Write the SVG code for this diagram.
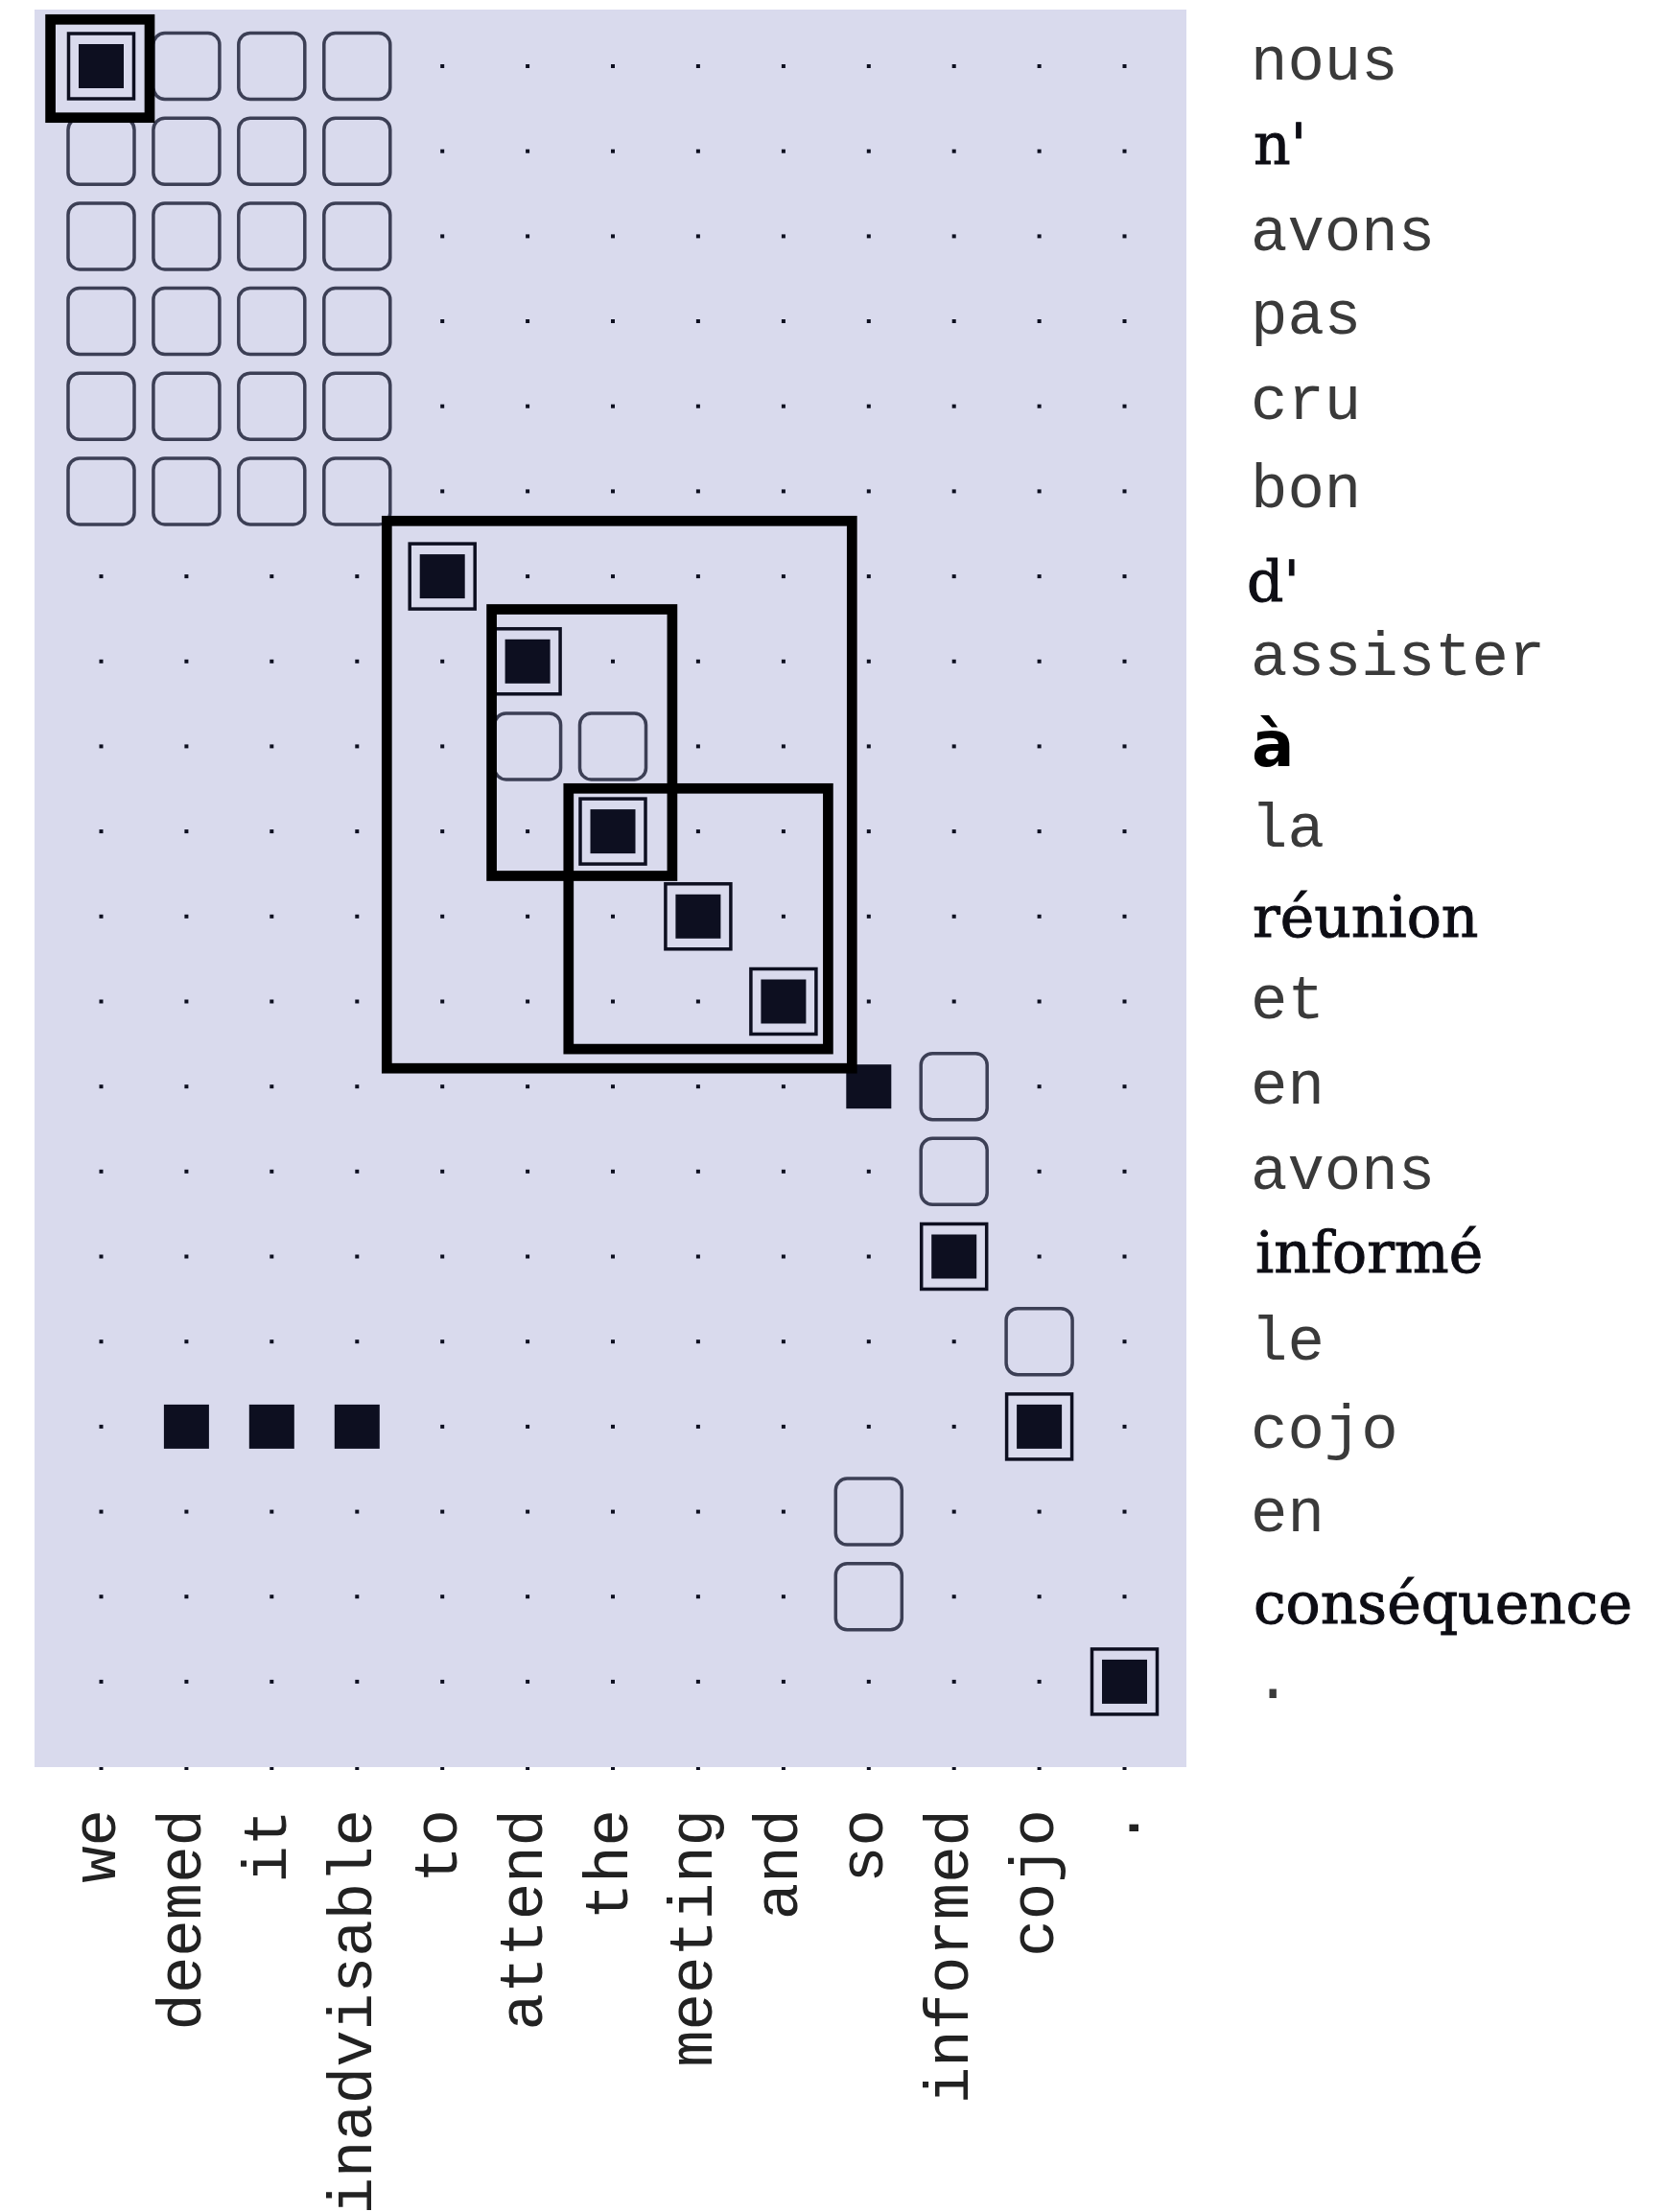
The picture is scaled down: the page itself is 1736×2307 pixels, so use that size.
<svg xmlns="http://www.w3.org/2000/svg" xmlns:xlink="http://www.w3.org/1999/xlink" width="1736" height="2307" viewBox="0 0 1736 2307">
<style>
.mono{font-family:"Liberation Mono","DejaVu Sans Mono",monospace;font-size:64px;fill:#3a3a3a}
.en{font-family:"Liberation Mono","DejaVu Sans Mono",monospace;font-size:64px;fill:#222}
.ser{font-family:"DejaVu Serif","Liberation Serif",serif;font-size:60px;fill:#0d0d14;stroke:#0d0d14;stroke-width:1}
.bld{font-family:"DejaVu Sans","Liberation Sans",sans-serif;font-weight:bold;font-size:66px;fill:#000}
.thick{fill:none;stroke:#000;stroke-width:10.7}
</style>
<defs>
<rect id="d" x="-2" y="-2" width="4" height="4" fill="#0d0f20"/>
<rect id="d2" x="-2" y="0" width="4" height="3" fill="#0d0f20"/>
<rect id="f" x="-23.5" y="-23" width="47" height="46" fill="#0d0f20"/>
<rect id="fr" x="-34" y="-34" width="68" height="68" fill="none" stroke="#0d0f20" stroke-width="3.5"/>
<rect id="rb" x="-34.5" y="-34.5" width="69" height="69" rx="12" fill="none" stroke="#3c3f55" stroke-width="3.5"/>
</defs>
<rect width="1736" height="2307" fill="#fff"/>
<rect id="matrix-bg" x="36" y="10" width="1201" height="1833" fill="#d9daed"/>

<g id="dots">
<g transform="translate(0,69)"><use href="#d" x="461.2"/><use href="#d" x="550.1"/><use href="#d" x="639"/><use href="#d" x="727.9"/><use href="#d" x="816.9"/><use href="#d" x="905.8"/><use href="#d" x="994.7"/><use href="#d" x="1083.6"/><use href="#d" x="1172.5"/></g>
<g transform="translate(0,157.7)"><use href="#d" x="461.2"/><use href="#d" x="550.1"/><use href="#d" x="639"/><use href="#d" x="727.9"/><use href="#d" x="816.9"/><use href="#d" x="905.8"/><use href="#d" x="994.7"/><use href="#d" x="1083.6"/><use href="#d" x="1172.5"/></g>
<g transform="translate(0,246.4)"><use href="#d" x="461.2"/><use href="#d" x="550.1"/><use href="#d" x="639"/><use href="#d" x="727.9"/><use href="#d" x="816.9"/><use href="#d" x="905.8"/><use href="#d" x="994.7"/><use href="#d" x="1083.6"/><use href="#d" x="1172.5"/></g>
<g transform="translate(0,335)"><use href="#d" x="461.2"/><use href="#d" x="550.1"/><use href="#d" x="639"/><use href="#d" x="727.9"/><use href="#d" x="816.9"/><use href="#d" x="905.8"/><use href="#d" x="994.7"/><use href="#d" x="1083.6"/><use href="#d" x="1172.5"/></g>
<g transform="translate(0,423.7)"><use href="#d" x="461.2"/><use href="#d" x="550.1"/><use href="#d" x="639"/><use href="#d" x="727.9"/><use href="#d" x="816.9"/><use href="#d" x="905.8"/><use href="#d" x="994.7"/><use href="#d" x="1083.6"/><use href="#d" x="1172.5"/></g>
<g transform="translate(0,512.4)"><use href="#d" x="461.2"/><use href="#d" x="550.1"/><use href="#d" x="639"/><use href="#d" x="727.9"/><use href="#d" x="816.9"/><use href="#d" x="905.8"/><use href="#d" x="994.7"/><use href="#d" x="1083.6"/><use href="#d" x="1172.5"/></g>
<g transform="translate(0,601.1)"><use href="#d" x="105.5"/><use href="#d" x="194.4"/><use href="#d" x="283.3"/><use href="#d" x="372.3"/><use href="#d" x="550.1"/><use href="#d" x="639"/><use href="#d" x="727.9"/><use href="#d" x="816.9"/><use href="#d" x="905.8"/><use href="#d" x="994.7"/><use href="#d" x="1083.6"/><use href="#d" x="1172.5"/></g>
<g transform="translate(0,689.8)"><use href="#d" x="105.5"/><use href="#d" x="194.4"/><use href="#d" x="283.3"/><use href="#d" x="372.3"/><use href="#d" x="461.2"/><use href="#d" x="639"/><use href="#d" x="727.9"/><use href="#d" x="816.9"/><use href="#d" x="905.8"/><use href="#d" x="994.7"/><use href="#d" x="1083.6"/><use href="#d" x="1172.5"/></g>
<g transform="translate(0,778.4)"><use href="#d" x="105.5"/><use href="#d" x="194.4"/><use href="#d" x="283.3"/><use href="#d" x="372.3"/><use href="#d" x="461.2"/><use href="#d" x="727.9"/><use href="#d" x="816.9"/><use href="#d" x="905.8"/><use href="#d" x="994.7"/><use href="#d" x="1083.6"/><use href="#d" x="1172.5"/></g>
<g transform="translate(0,867.1)"><use href="#d" x="105.5"/><use href="#d" x="194.4"/><use href="#d" x="283.3"/><use href="#d" x="372.3"/><use href="#d" x="461.2"/><use href="#d" x="550.1"/><use href="#d" x="727.9"/><use href="#d" x="816.9"/><use href="#d" x="905.8"/><use href="#d" x="994.7"/><use href="#d" x="1083.6"/><use href="#d" x="1172.5"/></g>
<g transform="translate(0,955.8)"><use href="#d" x="105.5"/><use href="#d" x="194.4"/><use href="#d" x="283.3"/><use href="#d" x="372.3"/><use href="#d" x="461.2"/><use href="#d" x="550.1"/><use href="#d" x="639"/><use href="#d" x="816.9"/><use href="#d" x="905.8"/><use href="#d" x="994.7"/><use href="#d" x="1083.6"/><use href="#d" x="1172.5"/></g>
<g transform="translate(0,1044.5)"><use href="#d" x="105.5"/><use href="#d" x="194.4"/><use href="#d" x="283.3"/><use href="#d" x="372.3"/><use href="#d" x="461.2"/><use href="#d" x="550.1"/><use href="#d" x="639"/><use href="#d" x="727.9"/><use href="#d" x="905.8"/><use href="#d" x="994.7"/><use href="#d" x="1083.6"/><use href="#d" x="1172.5"/></g>
<g transform="translate(0,1133.2)"><use href="#d" x="105.5"/><use href="#d" x="194.4"/><use href="#d" x="283.3"/><use href="#d" x="372.3"/><use href="#d" x="461.2"/><use href="#d" x="550.1"/><use href="#d" x="639"/><use href="#d" x="727.9"/><use href="#d" x="816.9"/><use href="#d" x="1083.6"/><use href="#d" x="1172.5"/></g>
<g transform="translate(0,1221.8)"><use href="#d" x="105.5"/><use href="#d" x="194.4"/><use href="#d" x="283.3"/><use href="#d" x="372.3"/><use href="#d" x="461.2"/><use href="#d" x="550.1"/><use href="#d" x="639"/><use href="#d" x="727.9"/><use href="#d" x="816.9"/><use href="#d" x="905.8"/><use href="#d" x="1083.6"/><use href="#d" x="1172.5"/></g>
<g transform="translate(0,1310.5)"><use href="#d" x="105.5"/><use href="#d" x="194.4"/><use href="#d" x="283.3"/><use href="#d" x="372.3"/><use href="#d" x="461.2"/><use href="#d" x="550.1"/><use href="#d" x="639"/><use href="#d" x="727.9"/><use href="#d" x="816.9"/><use href="#d" x="905.8"/><use href="#d" x="1083.6"/><use href="#d" x="1172.5"/></g>
<g transform="translate(0,1399.2)"><use href="#d" x="105.5"/><use href="#d" x="194.4"/><use href="#d" x="283.3"/><use href="#d" x="372.3"/><use href="#d" x="461.2"/><use href="#d" x="550.1"/><use href="#d" x="639"/><use href="#d" x="727.9"/><use href="#d" x="816.9"/><use href="#d" x="905.8"/><use href="#d" x="994.7"/><use href="#d" x="1172.5"/></g>
<g transform="translate(0,1487.9)"><use href="#d" x="105.5"/><use href="#d" x="461.2"/><use href="#d" x="550.1"/><use href="#d" x="639"/><use href="#d" x="727.9"/><use href="#d" x="816.9"/><use href="#d" x="905.8"/><use href="#d" x="994.7"/><use href="#d" x="1172.5"/></g>
<g transform="translate(0,1576.6)"><use href="#d" x="105.5"/><use href="#d" x="194.4"/><use href="#d" x="283.3"/><use href="#d" x="372.3"/><use href="#d" x="461.2"/><use href="#d" x="550.1"/><use href="#d" x="639"/><use href="#d" x="727.9"/><use href="#d" x="816.9"/><use href="#d" x="994.7"/><use href="#d" x="1083.6"/><use href="#d" x="1172.5"/></g>
<g transform="translate(0,1665.2)"><use href="#d" x="105.5"/><use href="#d" x="194.4"/><use href="#d" x="283.3"/><use href="#d" x="372.3"/><use href="#d" x="461.2"/><use href="#d" x="550.1"/><use href="#d" x="639"/><use href="#d" x="727.9"/><use href="#d" x="816.9"/><use href="#d" x="994.7"/><use href="#d" x="1083.6"/><use href="#d" x="1172.5"/></g>
<g transform="translate(0,1753.9)"><use href="#d" x="105.5"/><use href="#d" x="194.4"/><use href="#d" x="283.3"/><use href="#d" x="372.3"/><use href="#d" x="461.2"/><use href="#d" x="550.1"/><use href="#d" x="639"/><use href="#d" x="727.9"/><use href="#d" x="816.9"/><use href="#d" x="905.8"/><use href="#d" x="994.7"/><use href="#d" x="1083.6"/></g>
<g transform="translate(0,1843)"><use href="#d2" x="105.5"/><use href="#d2" x="194.4"/><use href="#d2" x="283.3"/><use href="#d2" x="372.3"/><use href="#d2" x="461.2"/><use href="#d2" x="550.1"/><use href="#d2" x="639"/><use href="#d2" x="727.9"/><use href="#d2" x="816.9"/><use href="#d2" x="905.8"/><use href="#d2" x="994.7"/><use href="#d2" x="1083.6"/><use href="#d2" x="1172.5"/></g>
</g>

<g id="possible-links">
<use href="#rb" x="194.4" y="69"/><use href="#rb" x="283.3" y="69"/><use href="#rb" x="372.3" y="69"/>
<use href="#rb" x="105.5" y="157.7"/><use href="#rb" x="194.4" y="157.7"/><use href="#rb" x="283.3" y="157.7"/><use href="#rb" x="372.3" y="157.7"/>
<use href="#rb" x="105.5" y="246.4"/><use href="#rb" x="194.4" y="246.4"/><use href="#rb" x="283.3" y="246.4"/><use href="#rb" x="372.3" y="246.4"/>
<use href="#rb" x="105.5" y="335"/><use href="#rb" x="194.4" y="335"/><use href="#rb" x="283.3" y="335"/><use href="#rb" x="372.3" y="335"/>
<use href="#rb" x="105.5" y="423.7"/><use href="#rb" x="194.4" y="423.7"/><use href="#rb" x="283.3" y="423.7"/><use href="#rb" x="372.3" y="423.7"/>
<use href="#rb" x="105.5" y="512.4"/><use href="#rb" x="194.4" y="512.4"/><use href="#rb" x="283.3" y="512.4"/><use href="#rb" x="372.3" y="512.4"/>
<use href="#rb" x="550.1" y="778.4"/><use href="#rb" x="639" y="778.4"/>
<use href="#rb" x="994.7" y="1133.2"/><use href="#rb" x="994.7" y="1221.8"/>
<use href="#rb" x="1083.6" y="1399.2"/>
<use href="#rb" x="905.8" y="1576.6"/><use href="#rb" x="905.8" y="1665.2"/>
</g>

<g id="sure-links">
<g id="c0-0"><use href="#fr" x="105.5" y="69"/><use href="#f" x="105.5" y="69"/></g>
<g id="c6-4"><use href="#fr" x="461.2" y="601.1"/><use href="#f" x="461.2" y="601.1"/></g>
<g id="c7-5"><use href="#fr" x="550.1" y="689.8"/><use href="#f" x="550.1" y="689.8"/></g>
<g id="c9-6"><use href="#fr" x="639" y="867.1"/><use href="#f" x="639" y="867.1"/></g>
<g id="c10-7"><use href="#fr" x="727.9" y="955.8"/><use href="#f" x="727.9" y="955.8"/></g>
<g id="c11-8"><use href="#fr" x="816.9" y="1044.5"/><use href="#f" x="816.9" y="1044.5"/></g>
<g id="c14-10"><use href="#fr" x="994.7" y="1310.5"/><use href="#f" x="994.7" y="1310.5"/></g>
<g id="c16-11"><use href="#fr" x="1083.6" y="1487.9"/><use href="#f" x="1083.6" y="1487.9"/></g>
<g id="c19-12"><use href="#fr" x="1172.5" y="1753.9"/><use href="#f" x="1172.5" y="1753.9"/></g>
<g id="c12-9"><use href="#f" x="905.8" y="1133.2"/></g>
<g id="c16-123"><use href="#f" x="194.4" y="1487.9"/><use href="#f" x="283.3" y="1487.9"/><use href="#f" x="372.3" y="1487.9"/></g>
</g>

<g id="phrase-boxes">
<rect class="thick" x="52.6" y="20.3" width="103.4" height="102.4"/>
<rect class="thick" x="403.3" y="543.3" width="485" height="570.9"/>
<rect class="thick" x="512.6" y="635.5" width="188.3" height="278"/>
<rect class="thick" x="592.8" y="822.3" width="270.6" height="271.8"/>
</g>

<g id="french-labels">
<text class="mono" x="1304" y="82.5">nous</text>
<text class="ser" x="1307" y="170.5">n'</text>
<text class="mono" x="1304" y="261">avons</text>
<text class="mono" x="1304" y="348">pas</text>
<text class="mono" x="1304" y="436.5">cru</text>
<text class="mono" x="1304" y="529">bon</text>
<text class="ser" x="1300" y="626.5">d'</text>
<text class="mono" x="1304" y="704">assister</text>
<text class="bld" x="1305" y="799.3">à</text>
<text class="mono" x="1304" y="883.3">la</text>
<text class="ser" x="1306" y="976.7">réunion</text>
<text class="mono" x="1304" y="1061.7">et</text>
<text class="mono" x="1304" y="1151">en</text>
<text class="mono" x="1304" y="1240">avons</text>
<text class="ser" x="1309" y="1326.7">informé</text>
<text class="mono" x="1304" y="1418.3">le</text>
<text class="mono" x="1304" y="1510">cojo</text>
<text class="mono" x="1304" y="1596.7">en</text>
<text class="ser" x="1307" y="1693.3">conséquence</text>
<text class="mono" x="1308" y="1771">.</text>
</g>

<g id="english-labels" text-anchor="end">
<text class="en" transform="translate(120,1887) rotate(-90)">we</text>
<text class="en" transform="translate(208.9,1887) rotate(-90)">deemed</text>
<text class="en" transform="translate(297.8,1887) rotate(-90)">it</text>
<text class="en" transform="translate(386.8,1887) rotate(-90)">inadvisable</text>
<text class="en" transform="translate(475.7,1887) rotate(-90)">to</text>
<text class="en" transform="translate(564.6,1887) rotate(-90)">attend</text>
<text class="en" transform="translate(653.5,1887) rotate(-90)">the</text>
<text class="en" transform="translate(742.4,1887) rotate(-90)">meeting</text>
<text class="en" transform="translate(831.4,1887) rotate(-90)">and</text>
<text class="en" transform="translate(920.3,1887) rotate(-90)">so</text>
<text class="en" transform="translate(1009.2,1887) rotate(-90)">informed</text>
<text class="en" transform="translate(1098.1,1887) rotate(-90)">cojo</text>
<text class="en" transform="translate(1187,1887) rotate(-90)">.</text>
</g>
</svg>
